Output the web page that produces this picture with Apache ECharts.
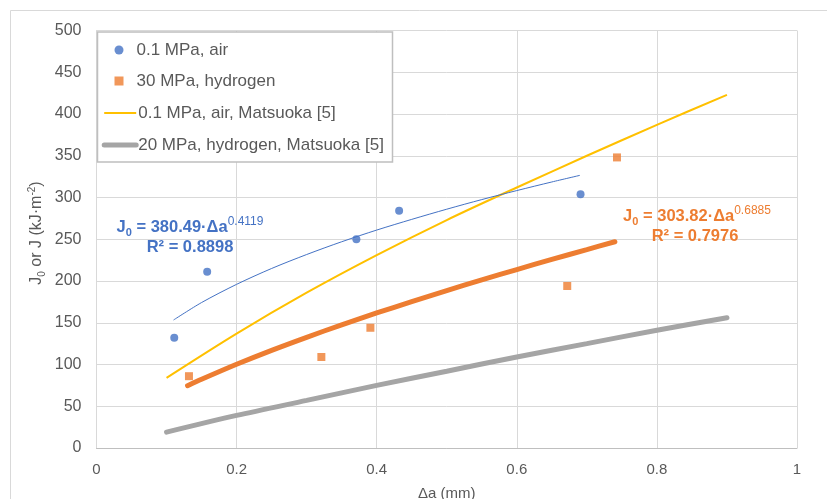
<!DOCTYPE html>
<html>
<head>
<meta charset="utf-8">
<script src="https://cdn.jsdelivr.net/npm/echarts@6/dist/echarts.min.js"></script>
<style>
html,body{margin:0;padding:0;background:#fff;}
#chart{width:827px;height:499px;}
</style>
</head>
<body>
<div id="chart"></div>
<script>
// ---- data ----
const airX = [0.111, 0.158, 0.371, 0.432, 0.691];
const airY = [132, 211, 250, 284, 304];
const h2X = [0.132, 0.321, 0.391, 0.672, 0.743];
const h2Y = [86, 109, 144, 194, 348];

const airFitX = [0.11, 0.15, 0.2, 0.25, 0.3, 0.35, 0.4, 0.45, 0.5, 0.55, 0.6, 0.65, 0.69];
const airFitY = [153.3, 174.2, 196.0, 215.0, 231.7, 247.0, 261.0, 273.8, 286.0, 297.5, 308.3, 318.6, 326.5];
const h2FitX = [0.13, 0.15, 0.2, 0.25, 0.3, 0.35, 0.4, 0.45, 0.5, 0.55, 0.6, 0.65, 0.7, 0.74];
const h2FitY = [74.6, 82.3, 100.3, 117.0, 132.6, 147.5, 161.7, 175.3, 188.5, 201.3, 213.7, 225.9, 237.6, 247.0];

const matAirX = [0.1, 0.2, 0.3, 0.4, 0.5, 0.6, 0.7, 0.8, 0.9];
const matAirY = [84, 137, 186, 231, 273, 312, 350, 387, 423];
const matH2X = [0.1, 0.2, 0.3, 0.4, 0.5, 0.6, 0.7, 0.8, 0.9];
const matH2Y = [19, 39, 57, 75, 92, 109, 125, 141, 156];

const names = ['0.1 MPa, air', '30 MPa, hydrogen', '0.1 MPa, air, Matsuoka [5]', '20 MPa, hydrogen, Matsuoka [5]'];

const zip = (xs, ys) => xs.map((x, i) => [x, ys[i]]);
const FONT = '"Liberation Sans", Arial, sans-serif';
const GRAY = '#595959';

function eqRich(color) {
  return {
    b: {fill: color, fontSize: 16.5, fontWeight: 'bold', fontFamily: FONT, verticalAlign: 'middle', lineHeight: 22},
    s: {fill: color, fontSize: 11, fontWeight: 'bold', fontFamily: FONT, verticalAlign: 'bottom', lineHeight: 22},
    p: {fill: color, fontSize: 12, fontFamily: FONT, verticalAlign: 'top', lineHeight: 22}
  };
}

const chart = echarts.init(document.getElementById('chart'), null, {renderer: 'canvas'});
chart.setOption({
  animation: false,
  backgroundColor: '#fff',
  textStyle: {fontFamily: FONT},
  grid: {left: 96.5, right: 30, top: 30.5, bottom: 51, containLabel: false, outerBoundsMode: 'none'},
  xAxis: {
    type: 'value', min: 0, max: 1, interval: 0.2,
    name: 'Δa (mm)', nameLocation: 'middle', nameGap: 38,
    nameTextStyle: {color: GRAY, fontSize: 15, fontFamily: FONT},
    axisLine: {show: true, lineStyle: {color: '#BFBFBF', width: 1}},
    axisTick: {show: false},
    axisLabel: {color: GRAY, fontSize: 15, margin: 14, fontFamily: FONT},
    splitLine: {show: true, lineStyle: {color: '#D9D9D9', width: 1}}
  },
  yAxis: {
    type: 'value', min: 0, max: 500, interval: 50,
    axisLine: {show: true, lineStyle: {color: '#D9D9D9', width: 1}},
    axisTick: {show: false},
    axisLabel: {color: GRAY, fontSize: 16, margin: 15, fontFamily: FONT},
    splitLine: {show: true, lineStyle: {color: '#D9D9D9', width: 1}}
  },
  legend: [
    {
      data: [names[0], names[1]], orient: 'vertical', left: 109.5, top: 36,
      itemWidth: 9, itemHeight: 9, itemGap: 13,
      textStyle: {color: GRAY, fontSize: 17, fontFamily: FONT, lineHeight: 18, padding: [0, 0, 0, 8]},
      selectedMode: false, z: 10
    },
    {
      data: [names[2], names[3]], orient: 'vertical', left: 96.7, top: 99,
      itemWidth: 32, itemHeight: 14, itemGap: 14,
      itemStyle: {opacity: 0},
      lineStyle: {width: 'inherit'},
      textStyle: {color: GRAY, fontSize: 17, fontFamily: FONT, lineHeight: 18, padding: [0, 0, 0, -3]},
      selectedMode: false, z: 10
    }
  ],
  graphic: [
    {type: 'rect', z: 5, shape: {x: 10.5, y: 10.5, width: 900, height: 600},
     style: {fill: 'none', stroke: '#D9D9D9', lineWidth: 1}},
    {type: 'rect', z: 5, shape: {x: 97.5, y: 32, width: 295, height: 130},
     style: {fill: '#fff', stroke: '#BFBFBF', lineWidth: 1.5}},
    {type: 'text', z: 6, x: 37, y: 233, rotation: Math.PI / 2,
     style: {
       text: '{a|J}{s|0}{a| or J (kJ·m}{p|-2}{a|)}', textAlign: 'center', textVerticalAlign: 'middle',
       rich: {
         a: {fill: GRAY, fontSize: 16, fontFamily: FONT, verticalAlign: 'middle', lineHeight: 20},
         s: {fill: GRAY, fontSize: 10, fontFamily: FONT, verticalAlign: 'bottom', lineHeight: 20},
         p: {fill: GRAY, fontSize: 10, fontFamily: FONT, verticalAlign: 'top', lineHeight: 20}
       }
     }},
    {type: 'text', z: 6, x: 190, y: 227,
     style: {text: '{b|J}{s|0}{b| = 380.49·Δa}{p|0.4119}', textAlign: 'center', textVerticalAlign: 'middle',
             rich: eqRich('#4472C4')}},
    {type: 'text', z: 6, x: 190, y: 247,
     style: {text: 'R² = 0.8898', fill: '#4472C4', fontSize: 16.5, fontWeight: 'bold', fontFamily: FONT,
             textAlign: 'center', textVerticalAlign: 'middle'}},
    {type: 'text', z: 6, x: 697, y: 216,
     style: {text: '{b|J}{s|0}{b| = 303.82·Δa}{p|0.6885}', textAlign: 'center', textVerticalAlign: 'middle',
             rich: eqRich('#ED7D31')}},
    {type: 'text', z: 6, x: 695, y: 236,
     style: {text: 'R² = 0.7976', fill: '#ED7D31', fontSize: 16.5, fontWeight: 'bold', fontFamily: FONT,
             textAlign: 'center', textVerticalAlign: 'middle'}}
  ],
  series: [
    {name: names[3], type: 'line', data: zip(matH2X, matH2Y), smooth: 0.3, symbol: 'none',
     lineStyle: {color: '#A5A5A5', width: 5, cap: 'round'}, itemStyle: {color: '#A5A5A5'}, z: 2},
    {name: names[2], type: 'line', data: zip(matAirX, matAirY), smooth: 0.3, symbol: 'none',
     lineStyle: {color: '#FFC000', width: 2}, itemStyle: {color: '#FFC000'}, z: 2},
    {name: 'h2fit', type: 'line', data: zip(h2FitX, h2FitY), smooth: 0.3, symbol: 'none',
     lineStyle: {color: '#ED7D31', width: 5, cap: 'round'}, z: 3},
    {name: 'airfit', type: 'line', data: zip(airFitX, airFitY), smooth: 0.3, symbol: 'none',
     lineStyle: {color: '#4472C4', width: 1}, z: 3},
    {name: names[0], type: 'scatter', data: zip(airX, airY), symbol: 'circle', symbolSize: 8,
     itemStyle: {color: '#4472C4'}, z: 4},
    {name: names[1], type: 'scatter', data: zip(h2X, h2Y), symbol: 'rect', symbolSize: 8,
     itemStyle: {color: '#ED7D31'}, z: 4}
  ]
});
</script>
</body>
</html>
